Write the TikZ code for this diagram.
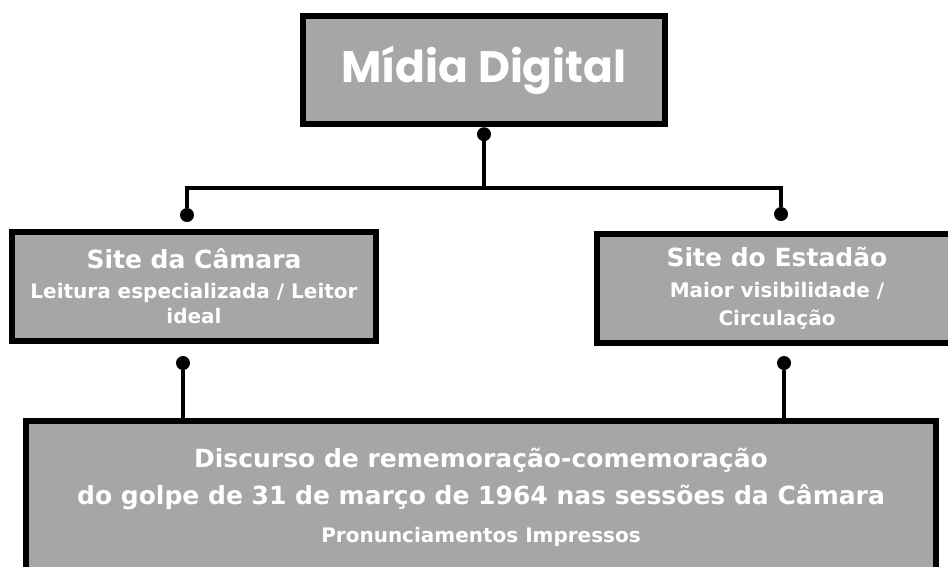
\documentclass[tikz,border=0pt]{standalone}
\usepackage{fontspec}
\setmainfont{DejaVu Sans}
\newfontfamily\popfont{Poppins}
\usetikzlibrary{positioning}
\definecolor{boxgray}{RGB}{166,166,166}

\begin{document}
\begin{tikzpicture}[x=1pt,y=-1pt,
	box/.style={draw=black,line width=6pt,fill=boxgray,text=white,inner sep=0pt,align=center,font=\bfseries},
 dotnode/.style={circle,fill=black,inner sep=0pt,minimum size=14pt},
	link/.style={line width=3.2pt}]

\clip (0,0) rectangle (948,566);
\fill[white] (0,0) rectangle (948,566);

\node[box,minimum width=362pt,minimum height=108pt] (midia) at (484,70)
		{\popfont\bfseries\fontsize{44}{50}\selectfont Mídia Digital};
 \node[box,minimum width=364pt,minimum height=109pt,font=\bfseries\fontsize{20}{25}\selectfont] (camara) at (194,286.5)
		{{\fontsize{25}{30}\selectfont Site da Câmara}\\[5pt]Leitura especializada / Leitor\\ideal};
	\node[box,minimum width=360pt,minimum height=109pt,font=\bfseries\fontsize{20}{28}\selectfont] (estadao) at (777,288)
		{{\fontsize{25}{30}\selectfont Site do Estadão}\\[3pt]Maior visibilidade /\\Circulação};
\node[box,minimum width=910pt,minimum height=152pt,font=\bfseries\fontsize{25}{37}\selectfont] (discurso) at (481,497)
		{Discurso de rememoração-comemoração\\do golpe de 31 de março de 1964 nas sessões da Câmara\\[1pt]{\fontsize{20}{24}\selectfont Pronunciamentos Impressos}};

\node[dotnode] (d0) [below=0pt of midia] {};
 \node[dotnode] (d1) at (187,215) {};
	\node[dotnode] (d2) at (781,214) {};
\node[dotnode] (d3) at (183,363) {};
	\node[dotnode] (d4) at (784,363) {};

\coordinate (barL) at (187,188);
\coordinate (barR) at (781,188);

\draw[link] (d0) -- (d0 |- barL);
\draw[link] (d1) -- (barL) -- (barR) -- (d2);
	\draw[link] (d3) -- (d3 |- discurso.north);
	\draw[link] (d4) -- (d4 |- discurso.north);

\end{tikzpicture}
\end{document}
